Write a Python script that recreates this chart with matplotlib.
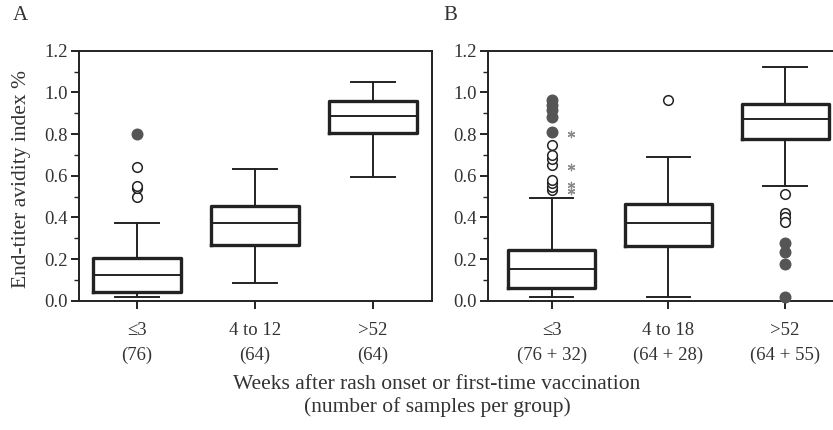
import matplotlib
matplotlib.use("Agg")
import matplotlib.pyplot as plt
from matplotlib.ticker import MultipleLocator

plt.rcParams['font.family'] = ['Liberation Serif', 'DejaVu Serif']

# ---------------- data ----------------
cats_a = ["≤3", "4 to 12", ">52"]
counts_a = ["(76)", "(64)", "(64)"]
# box statistics panel A: whislo, q1, med, q3, whishi
whislo_a = [0.019, 0.083, 0.594]
q1_a = [0.040, 0.266, 0.805]
med_a = [0.123, 0.374, 0.888]
q3_a = [0.203, 0.456, 0.960]
whishi_a = [0.374, 0.634, 1.050]
open_a = [[0.496, 0.539, 0.552, 0.643], [], []]
filled_a = [[0.80], [], []]

cats_b = ["≤3", "4 to 18", ">52"]
counts_b = ["(76 + 32)", "(64 + 28)", "(64 + 55)"]
whislo_b = [0.019, 0.019, 0.550]
q1_b = [0.063, 0.262, 0.778]
med_b = [0.151, 0.374, 0.870]
q3_b = [0.243, 0.464, 0.942]
whishi_b = [0.494, 0.691, 1.123]
open_b = [[0.531, 0.547, 0.563, 0.579, 0.651, 0.68, 0.70, 0.745],
          [0.963],
          [0.512, 0.42, 0.40, 0.38]]
filled_b = [[0.808, 0.884, 0.915, 0.939, 0.963],
            [],
            [0.275, 0.232, 0.176, 0.019]]
stars_b = [0.80, 0.64, 0.555, 0.525]

ylabel = "End-titer avidity index %"
xlabel = "Weeks after rash onset or first-time vaccination\n(number of samples per group)"

# ---------------- figure ----------------
W, H = 833, 430
fig = plt.figure(figsize=(W / 100, H / 100), dpi=100)

def frac_box(x0, x1, ytop, ybot):
    return [x0 / W, 1 - ybot / H, (x1 - x0) / W, (ybot - ytop) / H]

axA = fig.add_axes(frac_box(79, 432, 50.7, 300.7))
axB = fig.add_axes(frac_box(488, 843.5, 50.7, 300.7))

DARK = "#222222"
FILL = "#555555"


def draw(ax, cats, counts, wl, q1, md, q3, wh, opens, filled, xlim):
    stats = []
    for i in range(len(cats)):
        stats.append(dict(whislo=wl[i], q1=q1[i], med=md[i], q3=q3[i],
                          whishi=wh[i], fliers=[], label=cats[i]))
    pos = list(range(len(cats)))
    ax.bxp(stats, positions=pos, widths=0.745, showfliers=False,
           boxprops=dict(color=DARK, linewidth=2.4),
           medianprops=dict(color=DARK, linewidth=1.4),
           whiskerprops=dict(color=DARK, linewidth=1.4),
           capprops=dict(color=DARK, linewidth=1.4))
    for i in pos:
        if opens[i]:
            ax.scatter([i] * len(opens[i]), opens[i], s=48, facecolor="white",
                       edgecolor=DARK, linewidth=1.1, zorder=3, clip_on=False)
        if filled[i]:
            ax.scatter([i] * len(filled[i]), filled[i], s=58, facecolor=FILL,
                       edgecolor=FILL, linewidth=1.0, zorder=3, clip_on=False)
    ax.set_xlim(*xlim)
    ax.set_ylim(0, 1.2)
    ax.yaxis.set_major_locator(MultipleLocator(0.2))
    ax.yaxis.set_minor_locator(MultipleLocator(0.1))
    ax.yaxis.set_major_formatter(plt.FuncFormatter(lambda v, p: f"{v:.1f}"))
    ax.set_xticks(pos)
    ax.set_xticklabels([f"{c}\n{n}" for c, n in zip(cats, counts)],
                       fontsize=13.5, linespacing=1.6, color="#333333")
    ax.tick_params(axis="y", which="major", length=6, width=1.4,
                   labelsize=13.5, colors=DARK, labelcolor="#333333", pad=2)
    ax.tick_params(axis="y", which="minor", length=3.5, width=1.0, colors=DARK)
    ax.tick_params(axis="x", which="major", length=6, width=1.4, colors=DARK,
                   labelcolor="#333333", pad=9)
    for s in ax.spines.values():
        s.set_linewidth(1.4)
        s.set_color(DARK)


draw(axA, cats_a, counts_a, whislo_a, q1_a, med_a, q3_a, whishi_a,
     open_a, filled_a, (-0.49, 2.5))
draw(axB, cats_b, counts_b, whislo_b, q1_b, med_b, q3_b, whishi_b,
     open_b, filled_b, (-0.546, 2.5))

axB.scatter([0.163] * len(stars_b), stars_b, marker=(6, 2, 0), s=22,
            color="#8a8a8a", linewidth=0.9, zorder=3)

fig.text(22 / W, 1 - 179 / H, ylabel, rotation=90, ha="center", va="center",
         fontsize=15.5, color="#333333")
fig.text(437 / W, 1 - 396 / H, xlabel, ha="center", va="center",
         fontsize=15.5, color="#333333", linespacing=1.15)
fig.text(20 / W, 1 - 15 / H, "A", ha="center", va="center", fontsize=15,
         color="#333333")
fig.text(450 / W, 1 - 15 / H, "B", ha="center", va="center", fontsize=15,
         color="#333333")

fig.savefig("out.png", dpi=100)
